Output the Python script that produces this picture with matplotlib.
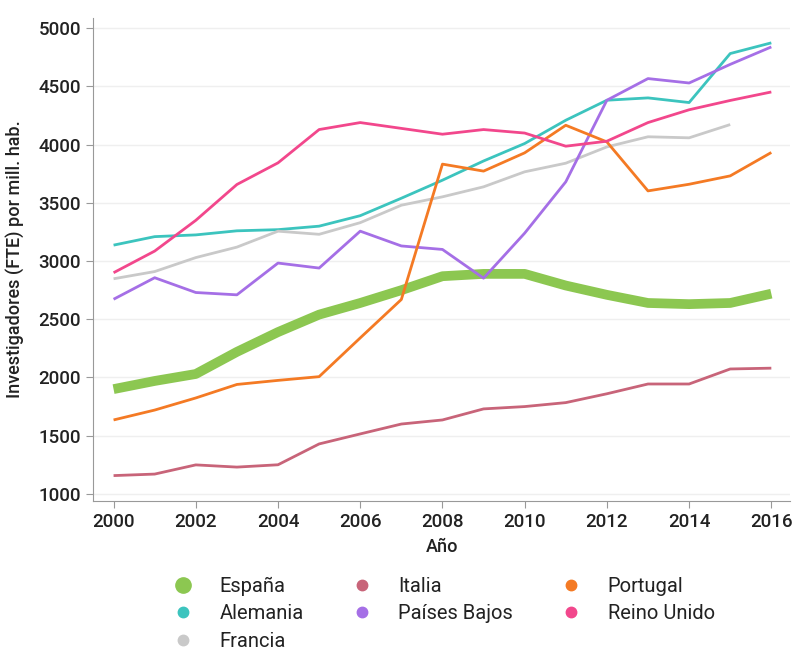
import matplotlib.pyplot as plt
from matplotlib.lines import Line2D

plt.rcParams['font.family'] = ['Roboto', 'DejaVu Sans']

years = list(range(2000, 2017))

espana = [1900, 1970, 2030, 2220, 2390, 2540, 2640, 2750, 2870, 2890, 2890, 2790, 2710, 2640, 2630, 2640, 2720]
italia = [1157, 1170, 1249, 1230, 1250, 1429, 1515, 1600, 1635, 1730, 1750, 1784, 1860, 1944, 1944, 2073, 2080]
portugal = [1635, 1720, 1824, 1940, 1975, 2007, 2340, 2670, 3833, 3773, 3930, 4167, 4024, 3603, 3660, 3732, 3933]
alemania = [3137, 3210, 3225, 3260, 3270, 3300, 3390, 3540, 3695, 3860, 4010, 4210, 4382, 4402, 4362, 4783, 4875]
paises_bajos = [2672, 2857, 2730, 2710, 2983, 2940, 3257, 3130, 3100, 2853, 3240, 3681, 4382, 4568, 4530, 4690, 4840]
reino_unido = [2900, 3086, 3350, 3658, 3844, 4130, 4190, 4140, 4090, 4130, 4100, 3987, 4030, 4190, 4300, 4380, 4453]
years_fr = list(range(2000, 2016))
francia = [2848, 2910, 3030, 3120, 3257, 3230, 3330, 3480, 3552, 3638, 3767, 3841, 3981, 4068, 4059, 4173]

# name, x, y, color, line width
series = [
    ('España', years, espana, '#8cc751', 7),
    ('Alemania', years, alemania, '#3cc4be', 2),
    ('Francia', years_fr, francia, '#c9c9c9', 2),
    ('Italia', years, italia, '#c86479', 2),
    ('Países Bajos', years, paises_bajos, '#a56fe6', 2),
    ('Portugal', years, portugal, '#f47a24', 2),
    ('Reino Unido', years, reino_unido, '#f2478c', 2),
]

fig = plt.figure(figsize=(7.95, 6.53), dpi=100)
ax = fig.add_axes([0.117, 0.233, 0.877, 0.739])

for name, x, y, color, lw in series:
    ax.plot(x, y, color=color, lw=lw, solid_capstyle='butt', zorder=2)

ax.set_xlim(1999.5, 2016.46)
ax.set_ylim(940, 5086)
ax.set_xticks(range(2000, 2017, 2))
ax.set_yticks(range(1000, 5001, 500))
ax.grid(axis='y', color='#efefef', lw=1, zorder=0)
ax.set_axisbelow(True)

for side in ['top', 'right']:
    ax.spines[side].set_visible(False)
for side in ['left', 'bottom']:
    ax.spines[side].set_color('#999999')
ax.tick_params(colors='#999999', labelcolor='#222222', labelsize=13.5, length=5)
for lab in ax.get_xticklabels() + ax.get_yticklabels():
    lab.set_fontweight('medium')

ax.set_xlabel('Año', fontsize=13, fontweight='medium', color='#222222')
ax.set_ylabel('Investigadores (FTE) por mill. hab.', fontsize=13, fontweight='medium', color='#222222')
ax.xaxis.set_label_coords(0.5, -0.078)
ax.yaxis.set_label_coords(-0.097, 0.5)

handles = []
for name, x, y, color, lw in series:
    ms = 11 if lw > 3 else 7.5
    handles.append(Line2D([], [], ls='', marker='o', color=color, markersize=ms, label=name))

fig.legend(handles=handles, ncol=3, loc='upper left', bbox_to_anchor=(173 / 795, 0.117),
           frameon=False, fontsize=14.5, handletextpad=1.3, columnspacing=2.4,
           labelspacing=0.42, handlelength=1.0, borderpad=0, borderaxespad=0,
           labelcolor='#222222')

fig.savefig('out.png', dpi=100)
